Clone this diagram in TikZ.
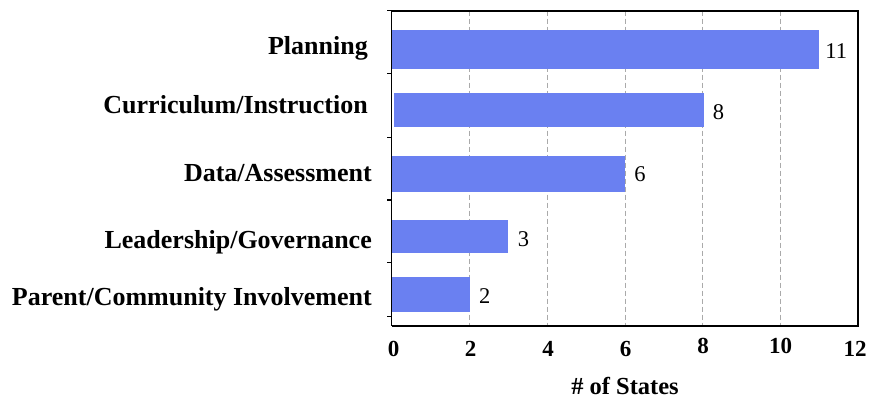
\documentclass[tikz,border=0pt]{standalone}
\usepackage{fontspec}
\setmainfont{Liberation Serif}
\usetikzlibrary{positioning}
\definecolor{barblue}{RGB}{106,128,241}
\definecolor{gridgray}{RGB}{170,170,170}
\tikzset{
  bar/.style={fill=barblue, draw=none, inner sep=0pt, anchor=west},
  gridline/.style={color=gridgray, line width=1pt, dash pattern={on 5pt off 3pt}},
  catlabel/.style={anchor=base east, inner sep=0pt, font=\fontsize{26}{30}\selectfont\bfseries},
  vallabel/.style={anchor=west, inner sep=0pt, font=\fontsize{22.5}{26}\selectfont},
  ticklabel/.style={anchor=base, inner sep=0pt, font=\fontsize{23}{27}\selectfont\bfseries}
}
\begin{document}
\begin{tikzpicture}[x=1pt,y=1pt,yscale=-1,xscale=1]
\useasboundingbox (0,0) rectangle (870,398);

%Grid Lines
\draw [gridline] (469.7,10.7) -- (469.7,326);
\draw [gridline] (547.4,10.7) -- (547.4,326);
\draw [gridline] (625.0,10.7) -- (625.0,326);
\draw [gridline] (702.7,10.7) -- (702.7,326);
\draw [gridline] (780.3,10.7) -- (780.3,326);

%Shape: Bars
\node [bar, minimum width=427.1pt, minimum height=38.7pt] (bplan) at (391.7,49.3) {};
\node [bar, minimum width=309.3pt, minimum height=33.7pt] (bcurr) at (394.0,109.8) {};
\node [bar, minimum width=233.0pt, minimum height=36.3pt] (bdata) at (391.7,173.8) {};
\node [bar, minimum width=116.5pt, minimum height=33.3pt] (blead) at (391.7,236.7) {};
\node [bar, minimum width=77.7pt, minimum height=35.0pt] (bpar) at (391.7,294.2) {};

%Shape: Frame
\draw [line width=1.8pt] (391.7,10.7) -- (857.7,10.7) -- (857.7,326) -- (391.7,326);
\draw [line width=1.4pt] (391.7,10.7) -- (391.7,326);
%Straight Lines: category ticks
\draw [line width=1.4pt] (387,10.7) -- (392,10.7);
\draw [line width=1.4pt] (387,73.3) -- (392,73.3);
\draw [line width=1.4pt] (387,137.3) -- (392,137.3);
\draw [line width=1.4pt] (387,200) -- (392,200);
\draw [line width=1.4pt] (387,262.7) -- (392,262.7);
\draw [line width=1.4pt] (387,316.7) -- (392,316.7);

% Text Node: categories
\node [catlabel] (lplan) at (368,55) {Planning};
\node [catlabel] (lcurr) at (368,114) {Curriculum/Instruction};
\node [catlabel] (ldata) at (372,182) {Data/Assessment};
\node [catlabel] (llead) at (372,248) {Leadership/Governance};
\node [catlabel] (lpar) at (372,305) {Parent/Community Involvement};

% Text Node: values
\node [vallabel, right=6pt of bplan.east, yshift=-1.5pt] (vplan) {11};
\node [vallabel, right=9pt of bcurr.east, yshift=-2pt] (vcurr) {8};
\node [vallabel, right=9pt of bdata.east] (vdata) {6};
\node [vallabel, right=9pt of blead.east, yshift=-2pt] (vlead) {3};
\node [vallabel, right=9pt of bpar.east, yshift=-2pt] (vpar) {2};

% Text Node: axis
\node [ticklabel] (t0) at (393.5,356) {0};
\node [ticklabel] (t2) at (470.5,356) {2};
\node [ticklabel] (t4) at (548,356) {4};
\node [ticklabel] (t6) at (625.5,356) {6};
\node [ticklabel] (t8) at (703,353) {8};
\node [ticklabel] (t10) at (780.5,353) {10};
\node [ticklabel] (t12) at (855,356) {12};
\node [ticklabel, font=\fontsize{24.5}{28}\selectfont\bfseries] (xtitle) at (625,394) {\# of States};

\end{tikzpicture}
\end{document}
